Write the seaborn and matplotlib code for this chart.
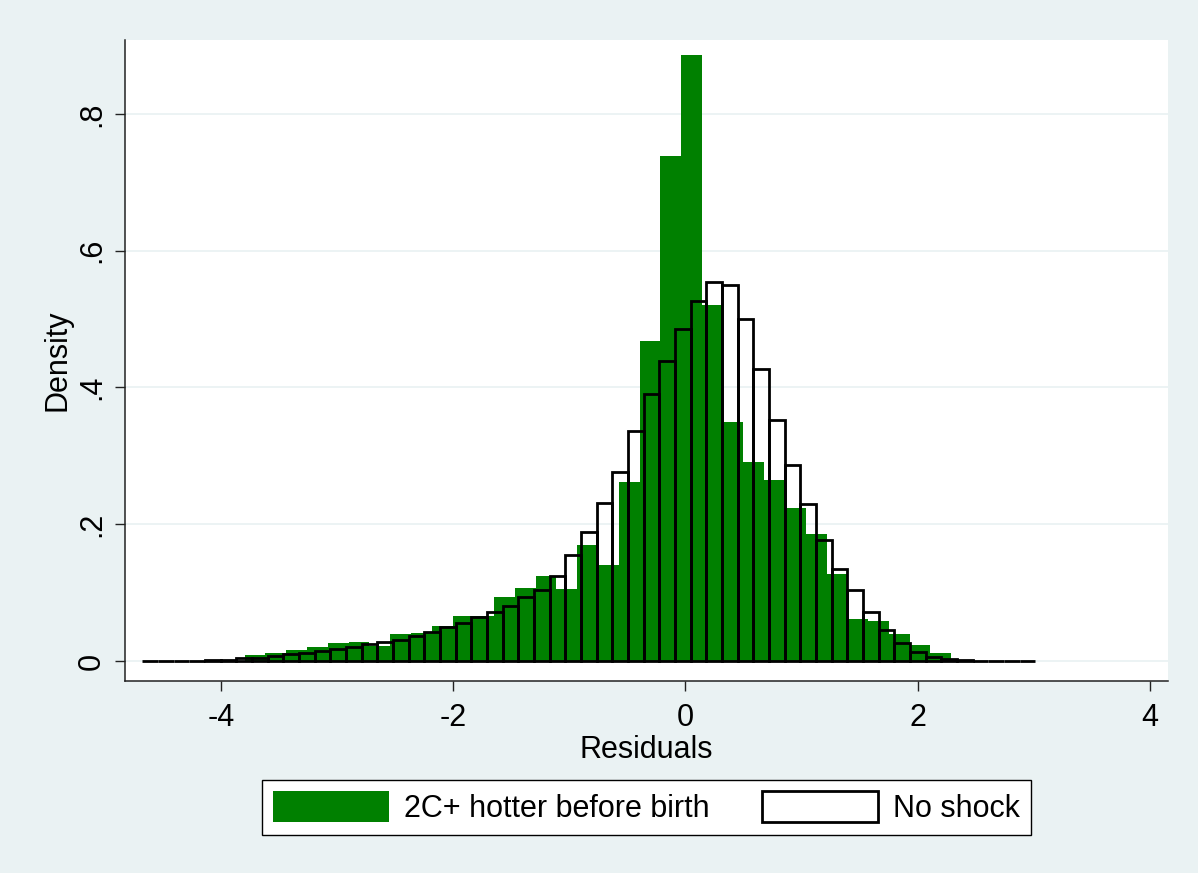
import numpy as np
import seaborn as sns
import matplotlib.pyplot as plt
from matplotlib.patches import Patch

# histogram bins: (first edge, last edge, number of bins)
shock_bins = (-3.798, 2.291, 34)
noshock_bins = (-4.681, 3.015, 57)

# bar heights (density), left to right
shock_density = [0.009, 0.011, 0.016, 0.020, 0.026, 0.028, 0.022, 0.040, 0.041,
                 0.051, 0.066, 0.066, 0.094, 0.107, 0.124, 0.105, 0.169, 0.140,
                 0.262, 0.468, 0.739, 0.886, 0.520, 0.349, 0.291, 0.264, 0.224,
                 0.185, 0.127, 0.062, 0.059, 0.040, 0.024, 0.011]
noshock_density = [0, 0, 0, 0, 0.002, 0.002, 0.004, 0.005, 0.007, 0.010, 0.012,
                   0.015, 0.017, 0.021, 0.025, 0.028, 0.031, 0.036, 0.043, 0.050,
                   0.056, 0.064, 0.071, 0.080, 0.093, 0.104, 0.124, 0.155, 0.188,
                   0.231, 0.276, 0.337, 0.390, 0.439, 0.485, 0.526, 0.554, 0.550,
                   0.500, 0.427, 0.352, 0.287, 0.230, 0.177, 0.135, 0.104, 0.071,
                   0.046, 0.027, 0.013, 0.006, 0.003, 0.001, 0, 0, 0, 0]

xticks = [-4, -2, 0, 2, 4]
xtick_labels = ['-4', '-2', '0', '2', '4']
yticks = [0, 0.2, 0.4, 0.6, 0.8]
ytick_labels = ['0', '.2', '.4', '.6', '.8']
labels = ['2C+ hotter before birth', 'No shock']

GREEN = '#008000'
BG = '#EAF2F3'

plt.rcParams['font.family'] = ['Liberation Sans', 'DejaVu Sans']


def centers(spec):
	lo, hi, n = spec
	w = (hi - lo) / n
	return np.linspace(lo, hi, n, endpoint=False) + w / 2


fig = plt.figure(figsize=(11.98, 8.73), dpi=100, facecolor=BG)
ax = fig.add_axes([0.1043, 0.2199, 0.8706, 0.7343])
ax.set_facecolor('white')

for y in yticks:
	ax.axhline(y, color=BG, lw=1.3, zorder=0)

sns.histplot(x=centers(shock_bins), weights=shock_density, bins=shock_bins[2],
             binrange=shock_bins[:2], stat='count', color=GREEN, alpha=1,
             linewidth=0, ax=ax, zorder=2)
sns.histplot(x=centers(noshock_bins), weights=noshock_density,
             bins=noshock_bins[2], binrange=noshock_bins[:2], stat='count',
             fill=False, color='black', linewidth=2.0, ax=ax, zorder=3)

ax.set_xlim(-4.83, 4.158)
ax.set_ylim(-0.0293, 0.908)

for s in ['top', 'right']:
	ax.spines[s].set_visible(False)
for s in ['left', 'bottom']:
	ax.spines[s].set_color('#222222')
	ax.spines[s].set_linewidth(1.1)

ax.set_xticks(xticks)
ax.set_xticklabels(xtick_labels, fontsize=22)
ax.set_yticks(yticks)
ax.set_yticklabels(ytick_labels, fontsize=22, rotation=90, va='center')
ax.tick_params(axis='both', length=7, width=1, color='#222222', pad=6)
ax.tick_params(axis='x', pad=9)

ax.set_xlabel('Residuals', fontsize=22, labelpad=1)
ax.set_ylabel('Density', fontsize=22, labelpad=3)

handles = [Patch(facecolor=GREEN, edgecolor='none'),
           Patch(facecolor='white', edgecolor='black', linewidth=2.0)]
leg = fig.legend(handles, labels, loc='center', bbox_to_anchor=(0.5397, 0.075),
                 ncol=2, frameon=True, fancybox=False, fontsize=22,
                 handlelength=3.8, handleheight=1.2, handletextpad=0.5,
                 columnspacing=1.7, borderpad=0.35)
leg.get_frame().set_edgecolor('black')
leg.get_frame().set_linewidth(1.0)
leg.get_frame().set_alpha(1)

fig.savefig('out.png', dpi=100, facecolor=BG)
